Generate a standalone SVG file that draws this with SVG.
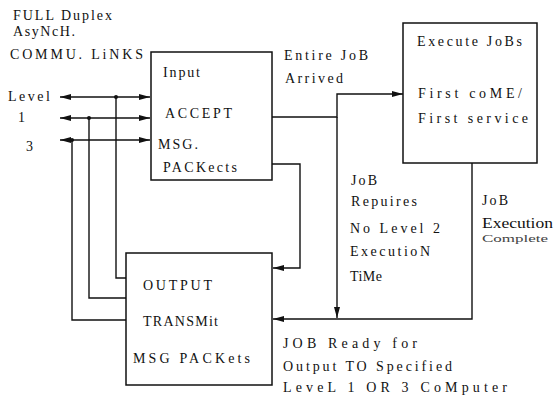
<svg xmlns="http://www.w3.org/2000/svg" width="555" height="395" viewBox="0 0 555 395">
<style>
.box{fill:#fff;stroke:#111;stroke-width:1.5}
.ln{fill:none;stroke:#111;stroke-width:1.4}
text{font-family:"Liberation Serif","DejaVu Serif","Times New Roman",serif;font-size:14px;fill:#111}
.sm{font-size:11px;fill:#444}
</style>
<defs>
<marker id="ah" markerUnits="userSpaceOnUse" markerWidth="12" markerHeight="8" refX="11" refY="3.5" orient="auto-start-reverse">
<path d="M0,0.5 L11,3.5 L0,6.5 z" fill="#111"/>
</marker>
</defs>
<rect width="555" height="395" fill="#fff"/>
<g id="labels-left">
<text x="13" y="20" textLength="99" lengthAdjust="spacing">FULL Duplex</text>
<text x="13" y="36" textLength="62" lengthAdjust="spacing">AsyNcH.</text>
<text x="10" y="59" textLength="133" lengthAdjust="spacing">COMMU. LiNKS</text>
<text x="8" y="101" textLength="42" lengthAdjust="spacing">Level</text>
<text x="18" y="122">1</text>
<text x="26" y="151">3</text>
</g>
<g id="connectors">
<path class="ln" d="M60,97 H150" marker-start="url(#ah)" marker-end="url(#ah)"/>
<path class="ln" d="M60,118 H150" marker-start="url(#ah)" marker-end="url(#ah)"/>
<path class="ln" d="M60,140 H150" marker-start="url(#ah)" marker-end="url(#ah)"/>
<path class="ln" d="M116,97 V278 H126"/>
<path class="ln" d="M89,118 V298 H126"/>
<path class="ln" d="M72,140 V320 H126"/>
<circle cx="116" cy="97" r="2" fill="#111"/>
<circle cx="89" cy="118" r="2" fill="#111"/>
<circle cx="72" cy="140" r="2" fill="#111"/>
<path class="ln" d="M272,117 H337 V94 H403" marker-end="url(#ah)"/>
<path class="ln" d="M337,117 V318" marker-end="url(#ah)"/>
<path class="ln" d="M272,164 H300 V268 H273" marker-end="url(#ah)"/>
<path class="ln" d="M472,163 V319 H273" marker-end="url(#ah)"/>
</g>
<g id="input">
<rect class="box" x="151" y="52" width="121" height="128"/>
<text x="163" y="77" textLength="37" lengthAdjust="spacing">Input</text>
<text x="165" y="118" textLength="67" lengthAdjust="spacing">ACCEPT</text>
<text x="158" y="149" textLength="40" lengthAdjust="spacing">MSG.</text>
<text x="163" y="172" textLength="74" lengthAdjust="spacing">PACKects</text>
</g>
<g id="execute">
<rect class="box" x="403" y="23" width="134" height="140"/>
<text x="417" y="46" textLength="105" lengthAdjust="spacing">Execute JoBs</text>
<text x="418" y="98" textLength="104" lengthAdjust="spacing">First coME/</text>
<text x="418" y="123" textLength="110" lengthAdjust="spacing">First service</text>
</g>
<g id="output">
<rect class="box" x="126" y="253" width="146" height="132"/>
<text x="143" y="290" textLength="69" lengthAdjust="spacing">OUTPUT</text>
<text x="143" y="326" textLength="75" lengthAdjust="spacing">TRANSMit</text>
<text x="133" y="363" textLength="117" lengthAdjust="spacing">MSG PACKets</text>
</g>
<g id="labels-edges">
<text x="284" y="60" textLength="84" lengthAdjust="spacing">Entire JoB</text>
<text x="285" y="83" textLength="58" lengthAdjust="spacing">Arrived</text>
<text x="351" y="185" textLength="26" lengthAdjust="spacing">JoB</text>
<text x="351" y="206" textLength="66" lengthAdjust="spacing">Repuires</text>
<text x="350" y="233" textLength="90" lengthAdjust="spacing">No Level 2</text>
<text x="350" y="256" textLength="80" lengthAdjust="spacing">ExecutioN</text>
<text x="350" y="281" textLength="32" lengthAdjust="spacing">TiMe</text>
<text x="482" y="205" textLength="26" lengthAdjust="spacing">JoB</text>
<text x="482" y="228" textLength="71" lengthAdjust="spacingAndGlyphs">Execution</text>
<text class="sm" x="482" y="242" textLength="66" lengthAdjust="spacingAndGlyphs">Complete</text>
<text x="283" y="348" textLength="134" lengthAdjust="spacing">JOB  Ready for</text>
<text x="283" y="371" textLength="169" lengthAdjust="spacing">Output TO Specified</text>
<text x="283" y="392" textLength="224" lengthAdjust="spacing">LeveL 1 OR 3 CoMputer</text>
</g>
</svg>
